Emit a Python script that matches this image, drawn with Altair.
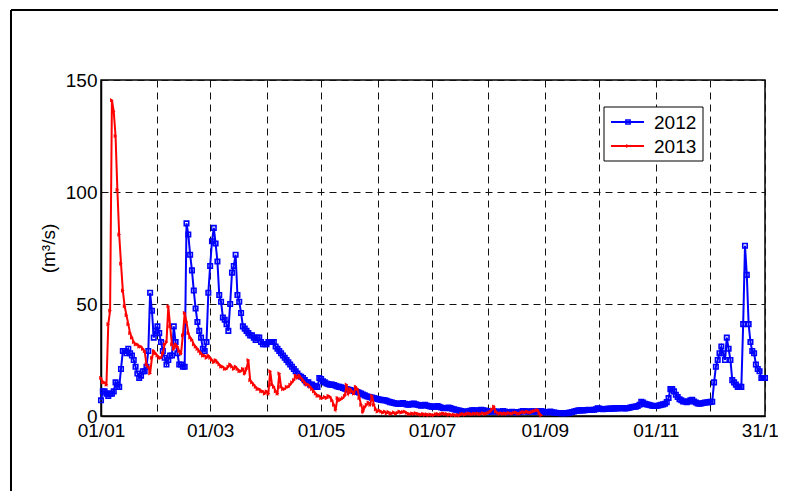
import altair as alt
import pandas as pd

years = ["2012", "2013"]
year_colors = ["#0000ff", "#ff0000"]
month_days = [0, 31, 60, 91, 121, 152, 182, 213, 244, 274, 305, 335, 365]
month_labels = ["01/01", "", "01/03", "", "01/05", "", "01/07", "", "01/09", "", "01/11", "", "31/12"]
y_ticks = [0, 50, 100, 150]

# daily flow, day 0 = 1 January
flow_2012 = [
    7, 11, 11, 10, 9, 10, 10, 11, 15, 14,
    13, 21, 29, 29, 28, 30, 28, 27, 25, 22,
    19, 17, 18, 20, 20, 22, 29, 55, 47, 35,
    38, 40, 37, 33, 29, 26, 23, 25, 27, 27,
    40, 33, 28, 23, 23, 22, 22, 86, 81, 72,
    65, 56, 48, 42, 38, 35, 30, 29, 33, 55,
    67, 78, 84, 77, 69, 54, 51, 44, 43, 41,
    38, 50, 64, 67, 72, 54, 51, 46, 40, 39,
    38, 37, 36, 36, 35, 34, 35, 35, 33, 32,
    32, 32, 33, 33, 33, 33, 31, 30, 29, 28,
    27, 26, 25, 24, 23, 22, 21, 20, 19, 18,
    17.5, 17, 16, 15, 15, 14, 14, 13.5, 13, 13,
    17, 16.5, 15.5, 15, 14.5, 14.2, 14, 14, 13.8, 13.5,
    13.2, 13, 12.8, 12.5, 12.2, 12, 11.8, 11.6, 11.4, 11.2,
    11, 10.7, 10.4, 10, 9.6, 9.2, 8.8, 8.6, 8.4, 8.2,
    8, 7.8, 7.6, 7.4, 7.2, 7.1, 7, 6.8, 6.5, 6.2,
    6, 5.8, 5.6, 5.5, 5.4, 5.6, 5.8, 5.5, 5.2, 5,
    5.2, 5.4, 5.6, 5.2, 5, 4.8, 4.6, 4.8, 5, 4.7,
    4.5, 4.3, 4.2, 4, 4.2, 4.4, 4.1, 3.8, 3.6, 3.5,
    3.6, 3.8, 3.5, 3.2, 3, 2.8, 2.6, 2.4, 2.2, 2,
    1.9, 1.9, 2.1, 2.3, 2.5, 2.6, 2.4, 2.2, 2.5, 2.8,
    2.6, 2.4, 2.2, 2, 1.9, 2, 2.1, 2, 1.9, 1.8,
    2, 2.2, 2, 1.8, 1.7, 1.8, 1.9, 1.8, 1.7, 1.7,
    1.8, 2, 2.2, 2.1, 2, 1.9, 2, 2.1, 2, 1.9,
    2, 2.1, 2.2, 2, 1.8, 1.6, 1.8, 2, 1.7, 1.5,
    1.4, 1.3, 1.3, 1.2, 1.2, 1.3, 1.2, 1.4, 1.6, 1.8,
    2, 2.2, 2.4, 2.5, 2.6, 2.5, 2.6, 2.7, 2.8, 2.7,
    2.7, 2.8, 3, 3.4, 3.3, 3.1, 3, 3.1, 3.2, 3.2,
    3.3, 3.3, 3.4, 3.5, 3.4, 3.5, 3.6, 3.5, 3.4, 3.5,
    3.6, 3.8, 4, 4.1, 4.2, 4.5, 5, 6.4, 6, 5.4,
    5.2, 5, 4.8, 4.6, 4.5, 4.5, 4.6, 4.8, 5, 5.2,
    5.5, 6.2, 8, 12, 12, 11, 9.5, 8.5, 7.5, 7,
    6.5, 6.5, 6.2, 6.5, 7, 7.2, 6.5, 6, 5.6, 5.5,
    5.6, 5.8, 6, 6, 6.2, 6.3, 6.4, 15, 22, 25,
    28, 31, 28, 25, 35, 30, 25, 16, 15, 14,
    13, 13, 13, 41, 76, 63, 41, 33, 29, 28,
    23, 21, 20, 17, 17, 17,
]

flow_2013 = [
    17, 15, 15, 14, 41, 47, 141, 136, 125, 101,
    81, 68, 56, 49, 45, 41, 37, 35, 33, 32,
    32, 31, 31, 30, 29, 23, 22, 19, 26, 29,
    28, 27, 26, 26, 28, 32, 33, 49, 40, 32,
    30, 32, 31, 29, 28, 36, 46, 42, 37, 35,
    34, 32, 31, 30, 29, 28, 27, 27, 26, 27,
    26, 25, 24, 25, 24, 23, 22, 22, 21, 21,
    22, 23, 22, 21, 22, 21, 20, 20, 21, 19,
    21, 25, 16, 15, 14, 13, 12, 12, 11, 11,
    10, 11, 10, 20, 14, 13, 11, 10, 19, 13,
    12, 12, 13, 13, 14, 15, 16, 18, 17, 18,
    17, 16, 15, 14, 14, 13, 12, 11, 10, 9,
    9, 8, 8, 8.5, 8, 9, 8.5, 7, 5, 3,
    8, 7, 7.5, 8, 9, 14, 10, 12, 11, 10,
    13, 12, 8, 5, 2, 4, 5, 6, 5, 9,
    5, 3, 2, 2.5, 2, 1.5, 2, 1.2, 1.8, 1,
    1.2, 1.6, 1, 1.4, 2, 1.5, 1.8, 2, 1.4, 1,
    0.8, 1.2, 0.9, 1.3, 1, 0.8, 0.6, 1, 0.5, 0.8,
    0.4, 0.7, 0.5, 0.4, 0.8, 1, 0.6, 0.9, 1.2, 0.8,
    1, 0.5, 0.7, 0.4, 0.6, 0.3, 0.5, 0.3, 0.8, 1,
    0.6, 0.9, 1.2, 1, 0.8, 1.1, 0.9, 1.2, 0.8, 1,
    1.3, 0.9, 1.1, 1.5, 2, 3, 4.2, 2, 1.4, 1,
    1.3, 0.9, 1.2, 1, 1.4, 1.2, 1.1, 1.4, 1.6, 1.2,
    1, 1.5, 1.8, 1.6, 2, 1.7, 1.5, 1.9, 2.2, 2.4,
    2.7, 1.2, 0.3,
]

FONT = "Liberation Sans"

df12 = pd.DataFrame({"day": range(len(flow_2012)), "flow": flow_2012})
df13 = pd.DataFrame({"day": range(len(flow_2013)), "flow": flow_2013})

label_expr = "{}[indexof({}, datum.value)]".format(
    "[" + ",".join("'" + s + "'" for s in month_labels) + "]",
    "[" + ",".join(str(v) for v in month_days) + "]",
)

x_enc = alt.X(
    "day:Q",
    scale=alt.Scale(domain=[0, 365], nice=False, zero=False),
    axis=alt.Axis(
        values=month_days, labelExpr=label_expr, title=None, ticks=False,
        labelPadding=5, labelOverlap=False, labelFlush=False,
        grid=True, gridDash=[7, 5], gridColor="#111111", gridWidth=1,
        domainColor="black", domainWidth=1.5,
    ),
)
y_enc = alt.Y(
    "flow:Q",
    scale=alt.Scale(domain=[0, 150], nice=False),
    axis=alt.Axis(
        values=y_ticks, title="(m³/s)", ticks=False, labelPadding=4,
        titlePadding=7, titleFontWeight="normal", titleFontSize=19, titleFont=FONT,
        grid=True, gridDash=[7, 5], gridColor="#111111", gridWidth=1,
        domainColor="black", domainWidth=1.5,
    ),
)

blue = (
    alt.Chart(df12)
    .mark_line(
        color=year_colors[0], strokeWidth=2,
        point=alt.OverlayMarkDef(shape="square", size=20, filled=False, color=year_colors[0], strokeWidth=1.6),
    )
    .encode(x=x_enc, y=y_enc)
)
red = (
    alt.Chart(df13)
    .mark_line(
        color=year_colors[1], strokeWidth=2,
        point=alt.OverlayMarkDef(shape="triangle-right", size=18, filled=True, color=year_colors[1]),
    )
    .encode(x="day:Q", y="flow:Q")
)

one = pd.DataFrame({"k": [0]})
frame_left = alt.Chart(one).mark_rule(color="black", strokeWidth=2).encode(
    x=alt.value(-90), y=alt.value(-70), y2=alt.value(411)
)
frame_top = alt.Chart(one).mark_rule(color="black", strokeWidth=2).encode(
    x=alt.value(-90), x2=alt.value(677), y=alt.value(-70)
)

legend_box = alt.Chart(one).mark_rect(fill="white", stroke="black", strokeWidth=1).encode(
    x=alt.value(503), x2=alt.value(602), y=alt.value(27), y2=alt.value(81)
)
legend_layers = [legend_box]
shapes = ["square", "triangle-right"]
for i, yr in enumerate(years):
    yy = 42 + 24 * i
    legend_layers.append(
        alt.Chart(one).mark_rule(color=year_colors[i], strokeWidth=2).encode(
            x=alt.value(510), x2=alt.value(543), y=alt.value(yy)
        )
    )
    legend_layers.append(
        alt.Chart(one).mark_point(
            shape=shapes[i], size=18, filled=(i == 1), color=year_colors[i], strokeWidth=1.5, opacity=1
        ).encode(x=alt.value(527), y=alt.value(yy))
    )
    legend_layers.append(
        alt.Chart(one).mark_text(align="left", baseline="middle", font=FONT, fontSize=19, color="black").encode(
            x=alt.value(553), y=alt.value(yy + 1), text=alt.value(yr)
        )
    )

chart = (
    alt.layer(blue, red, frame_left, frame_top, *legend_layers)
    .properties(
        width=664, height=336,
        autosize=alt.AutoSizeParams(type="none"),
        padding={"left": 93, "top": 72, "right": 13, "bottom": 75},
        background="white",
    )
    .configure_view(stroke="black", strokeWidth=1.5)
    .configure_axis(labelFont=FONT, labelFontSize=19, labelColor="black", titleColor="black")
)

chart.save("out.html", embed_options={"renderer": "svg", "actions": False})
